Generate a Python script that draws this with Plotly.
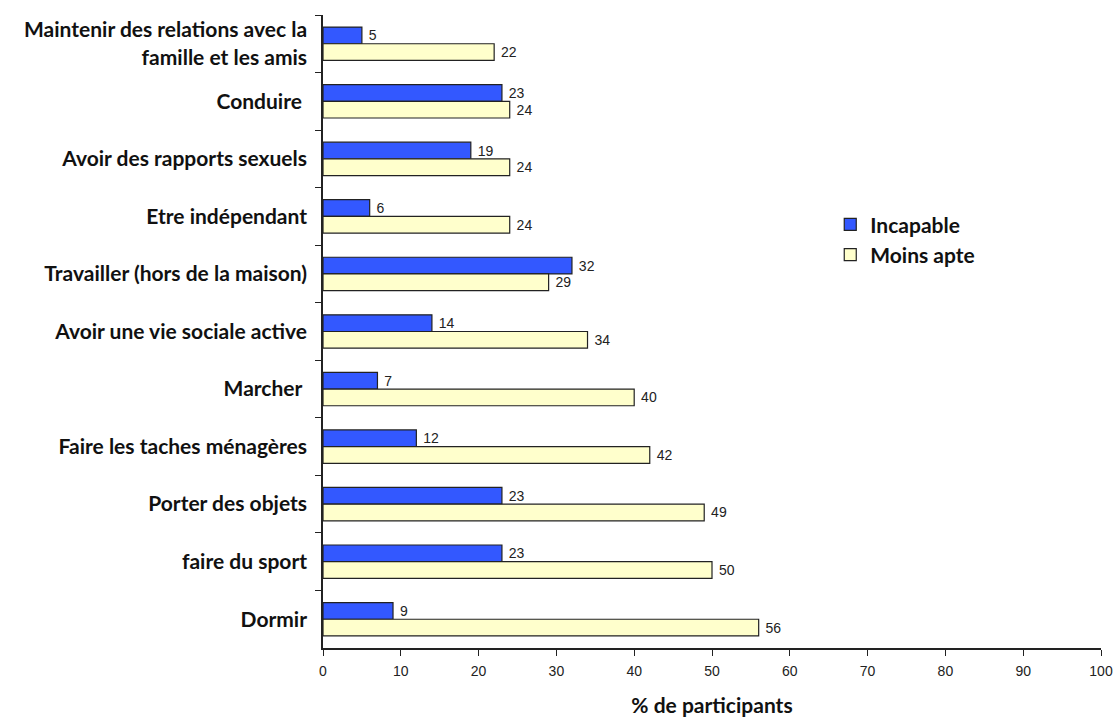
import plotly.graph_objects as go

categories = [
    "Maintenir des relations avec la<br>famille et les amis",
    "Conduire ",
    "Avoir des rapports sexuels",
    "Etre indépendant",
    "Travailler (hors de la maison)",
    "Avoir une vie sociale active",
    "Marcher ",
    "Faire les taches ménagères",
    "Porter des objets",
    "faire du sport",
    "Dormir",
]
incapable = [5, 23, 19, 6, 32, 14, 7, 12, 23, 23, 9]
moins_apte = [22, 24, 24, 24, 29, 34, 40, 42, 49, 50, 56]
x_ticks = [0, 10, 20, 30, 40, 50, 60, 70, 80, 90, 100]

num_font = dict(family="Liberation Sans, Arial", size=14, color="#222222")
lab_font = dict(family="Lato", size=21, color="#111111")

fig = go.Figure()
fig.add_trace(go.Bar(
    y=categories, x=incapable, orientation="h", name="<b>Incapable</b>",
    marker=dict(color="#3358FF", line=dict(color="#222222", width=1.2)),
    texttemplate=" %{x}", textposition="outside", textfont=num_font, cliponaxis=False,
))
fig.add_trace(go.Bar(
    y=categories, x=moins_apte, orientation="h", name="<b>Moins apte</b>",
    marker=dict(color="#FFFFCC", line=dict(color="#222222", width=1.2)),
    texttemplate=" %{x}", textposition="outside", textfont=num_font, cliponaxis=False,
))

fig.update_layout(
    width=1117, height=717,
    margin=dict(l=323, r=16, t=15, b=69, autoexpand=False),
    barmode="group", bargap=0.42, bargroupgap=0.0,
    plot_bgcolor="white", paper_bgcolor="white",
    legend=dict(x=0.652, y=0.645, xanchor="left", yanchor="middle",
                font=dict(family="Lato", size=21, color="#111111"),
                bgcolor="rgba(0,0,0,0)", tracegroupgap=0, itemwidth=30),
    xaxis=dict(
        range=[0, 100], tickvals=x_ticks, ticks="outside", ticklen=6,
        tickcolor="#222222", showline=True, linecolor="#222222", linewidth=1.5,
        showgrid=False, zeroline=False, tickfont=num_font, automargin=False,
        ticklabelstandoff=3,
        title=dict(text="<b>% de participants</b>", font=lab_font, standoff=26),
    ),
    yaxis=dict(
        autorange="reversed", ticks="outside", tickson="boundaries", ticklen=6,
        tickcolor="#222222", showline=True, linecolor="#222222", linewidth=1.5,
        showgrid=False, tickfont=lab_font, ticklabelstandoff=10, automargin=False,
        tickprefix="<b>", ticksuffix="</b>",
    ),
)

fig.write_html("out.html", post_script="document.body.style.margin='0';",
               config={"displayModeBar": False})
